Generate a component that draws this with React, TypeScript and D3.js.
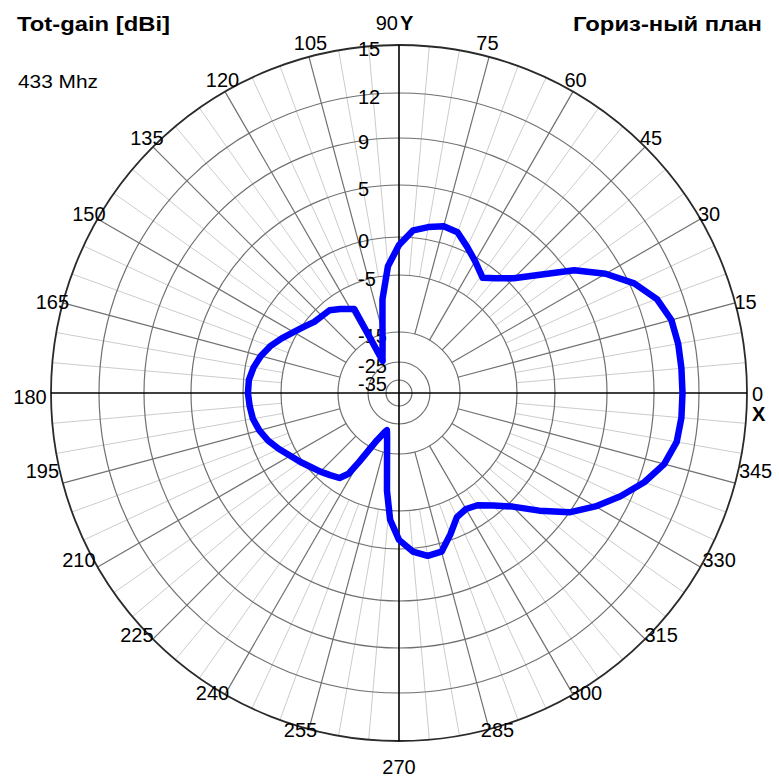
import React from 'react';
import * as d3 from 'd3';

// Horizontal-plane pattern, total gain in dBi at 433 MHz
const angleDeg = [0,5,10,15,20,25,30,35,40,45,50,54,60,65,70,75,80,85,90,95,100,105,110,115,117,118,120,125,130,135,140,145,150,155,160,165,170,175,180,185,190,195,200,205,210,215,220,225,230,235,238,240,245,250,252,255,260,263,266,270,275,280,285,290,295,300,305,310,315,320,325,330,335,340,345,350,355];
const gainDb = [10.9,10.9,10.9,10.8,10.3,9.3,7.6,5.5,2.7,0.6,-0.8,-1.8,-0.5,0.5,1.45,1.6,1.2,0.7,-1.05,-3.8,-9.0,-14.5,-19.3,-22.3,-23.3,-9.0,-8.7,-7.7,-6.75,-6.6,-6.3,-5.4,-4.5,-3.5,-2.5,-1.7,-1.1,-0.7,-0.65,-0.8,-1.0,-1.5,-2.2,-3.1,-4.0,-4.7,-5.5,-6.2,-6.9,-7.5,-9.0,-11.8,-18,-21.5,-22.3,-20,-13.6,-8.4,-3.8,-1.2,0.3,0.9,0.8,-0.75,-2.5,-2.9,-2.5,-1.2,0.45,2.6,5.0,6.6,8.1,9.4,10.3,10.8,10.9];

const ringLevels = [15, 12, 9, 5, 0, -5, -15, -25, -35];
const ringLabels = ['15', '12', '9', '5', '0', '-5', '-15', '-25', '-35'];
const angleTicks = d3.range(0, 360, 15);
const angleLabels = angleTicks.map(a => String(a));

const titleLeft = 'Tot-gain [dBi]';
const titleRight = 'Гориз-ный план';
const freqLabel = '433 Mhz';

const FONT = '"Liberation Sans", Arial, sans-serif';

export default function App() {
  const W = 779, H = 780;
  const cx = 399, cy = 393, R = 348;

  const rScale = d3.scaleLinear()
    .domain([-35, -25, -15, -5, 0, 5, 9, 12, 15])
    .range([13, 31, 61, 118, 156, 208, 255, 300, R])
    .clamp(true);

  const rad = (deg: number) => (deg * Math.PI) / 180;
  const px = (deg: number, r: number) => cx + r * Math.cos(rad(deg));
  const py = (deg: number, r: number) => cy - r * Math.sin(rad(deg));

  const pts: [number, number][] = angleDeg.map((a, i) => [rad(90 - a), rScale(gainDb[i])]);
  const pattern = d3.lineRadial<[number, number]>()
    .angle(d => d[0])
    .radius(d => d[1])
    .curve(d3.curveLinearClosed)(pts) || '';

  const spokes = d3.range(0, 360, 5).filter(a => a % 90 !== 0);

  const fs = 20;
  const labelPos = (a: number) => {
    const c = Math.cos(rad(a));
    const s = Math.sin(rad(a));
    const rr = R + 17;
    let x = cx + rr * c;
    let y = cy - rr * s;
    if (a === 270) {
      y = cy + R + 25;
    } else if (s > 0.01) {
      x -= 6 * Math.sign(c);
      y += 2;
    } else if (s < -0.01) {
      x += 4 * Math.sign(c);
      y -= 17;
    } else {
      x -= 4;
      y += 3;
    }
    return [x, y];
  };

  return (
    <svg width={W} height={H} style={{ position: 'absolute', left: 0, top: 0, background: '#fff' }}
      fontFamily={FONT}>
      <rect x={0} y={0} width={W} height={H} fill="#fff" />
      {/* light 5-degree spokes */}
      {spokes.filter(a => a % 15 !== 0).map(a => (
        <line key={'l' + a} x1={px(a, rScale(-5))} y1={py(a, rScale(-5))} x2={px(a, R)} y2={py(a, R)}
          stroke="#cccccc" strokeWidth={1} />
      ))}
      {/* dark 15-degree spokes */}
      {spokes.filter(a => a % 15 === 0).map(a => (
        <line key={'d' + a} x1={px(a, rScale(-15))} y1={py(a, rScale(-15))} x2={px(a, R)} y2={py(a, R)}
          stroke="#707070" strokeWidth={1.2} />
      ))}
      {/* rings */}
      {ringLevels.map((lv, i) => (
        <circle key={'r' + lv} cx={cx} cy={cy} r={rScale(lv)} fill="none"
          stroke={i === 0 ? '#2a2a2a' : '#707070'} strokeWidth={i === 0 ? 1.8 : 1.2} />
      ))}
      {/* main axes */}
      <line x1={cx - R} y1={cy} x2={cx + R} y2={cy} stroke="#000" strokeWidth={1.6} />
      <line x1={cx} y1={cy - R} x2={cx} y2={cy + R} stroke="#000" strokeWidth={1.6} />

      {/* ring labels */}
      {ringLevels.map((lv, i) => (
        <text key={'rl' + lv} x={358} y={cy - rScale(lv) + 4} fontSize={fs} dominantBaseline="central"
          fill="#000">{ringLabels[i]}</text>
      ))}

      {/* angle labels */}
      {angleTicks.map((a, i) => {
        if (a === 90) {
          return (
            <g key={'a' + a}>
              <text x={cx - 1} y={30} fontSize={fs} textAnchor="end">{angleLabels[i]}</text>
              <text x={cx + 1} y={30} fontSize={fs} fontWeight="bold">Y</text>
            </g>
          );
        }
        if (a === 0) {
          return (
            <g key={'a' + a}>
              <text x={cx + R + 5} y={cy + 1} fontSize={fs} dominantBaseline="central">{angleLabels[i]}</text>
              <text x={cx + R + 5} y={cy + 21} fontSize={fs} fontWeight="bold" dominantBaseline="central">X</text>
            </g>
          );
        }
        const [x, y] = labelPos(a);
        return (
          <text key={'a' + a} x={x} y={y + 1} fontSize={fs} textAnchor="middle" dominantBaseline="central">
            {angleLabels[i]}
          </text>
        );
      })}

      {/* pattern */}
      <g transform={`translate(${cx},${cy})`}>
        <path d={pattern} fill="none" stroke="#0000ff" strokeWidth={6.5} strokeLinejoin="round" />
      </g>

      {/* titles */}
      <text x={17} y={31} fontSize={21} fontWeight="bold" textLength={153} lengthAdjust="spacingAndGlyphs">{titleLeft}</text>
      <text x={762} y={31} fontSize={21} fontWeight="bold" textAnchor="end" textLength={189} lengthAdjust="spacingAndGlyphs">{titleRight}</text>
      <text x={18} y={88} fontSize={18} textLength={80} lengthAdjust="spacingAndGlyphs">{freqLabel}</text>
    </svg>
  );
}
